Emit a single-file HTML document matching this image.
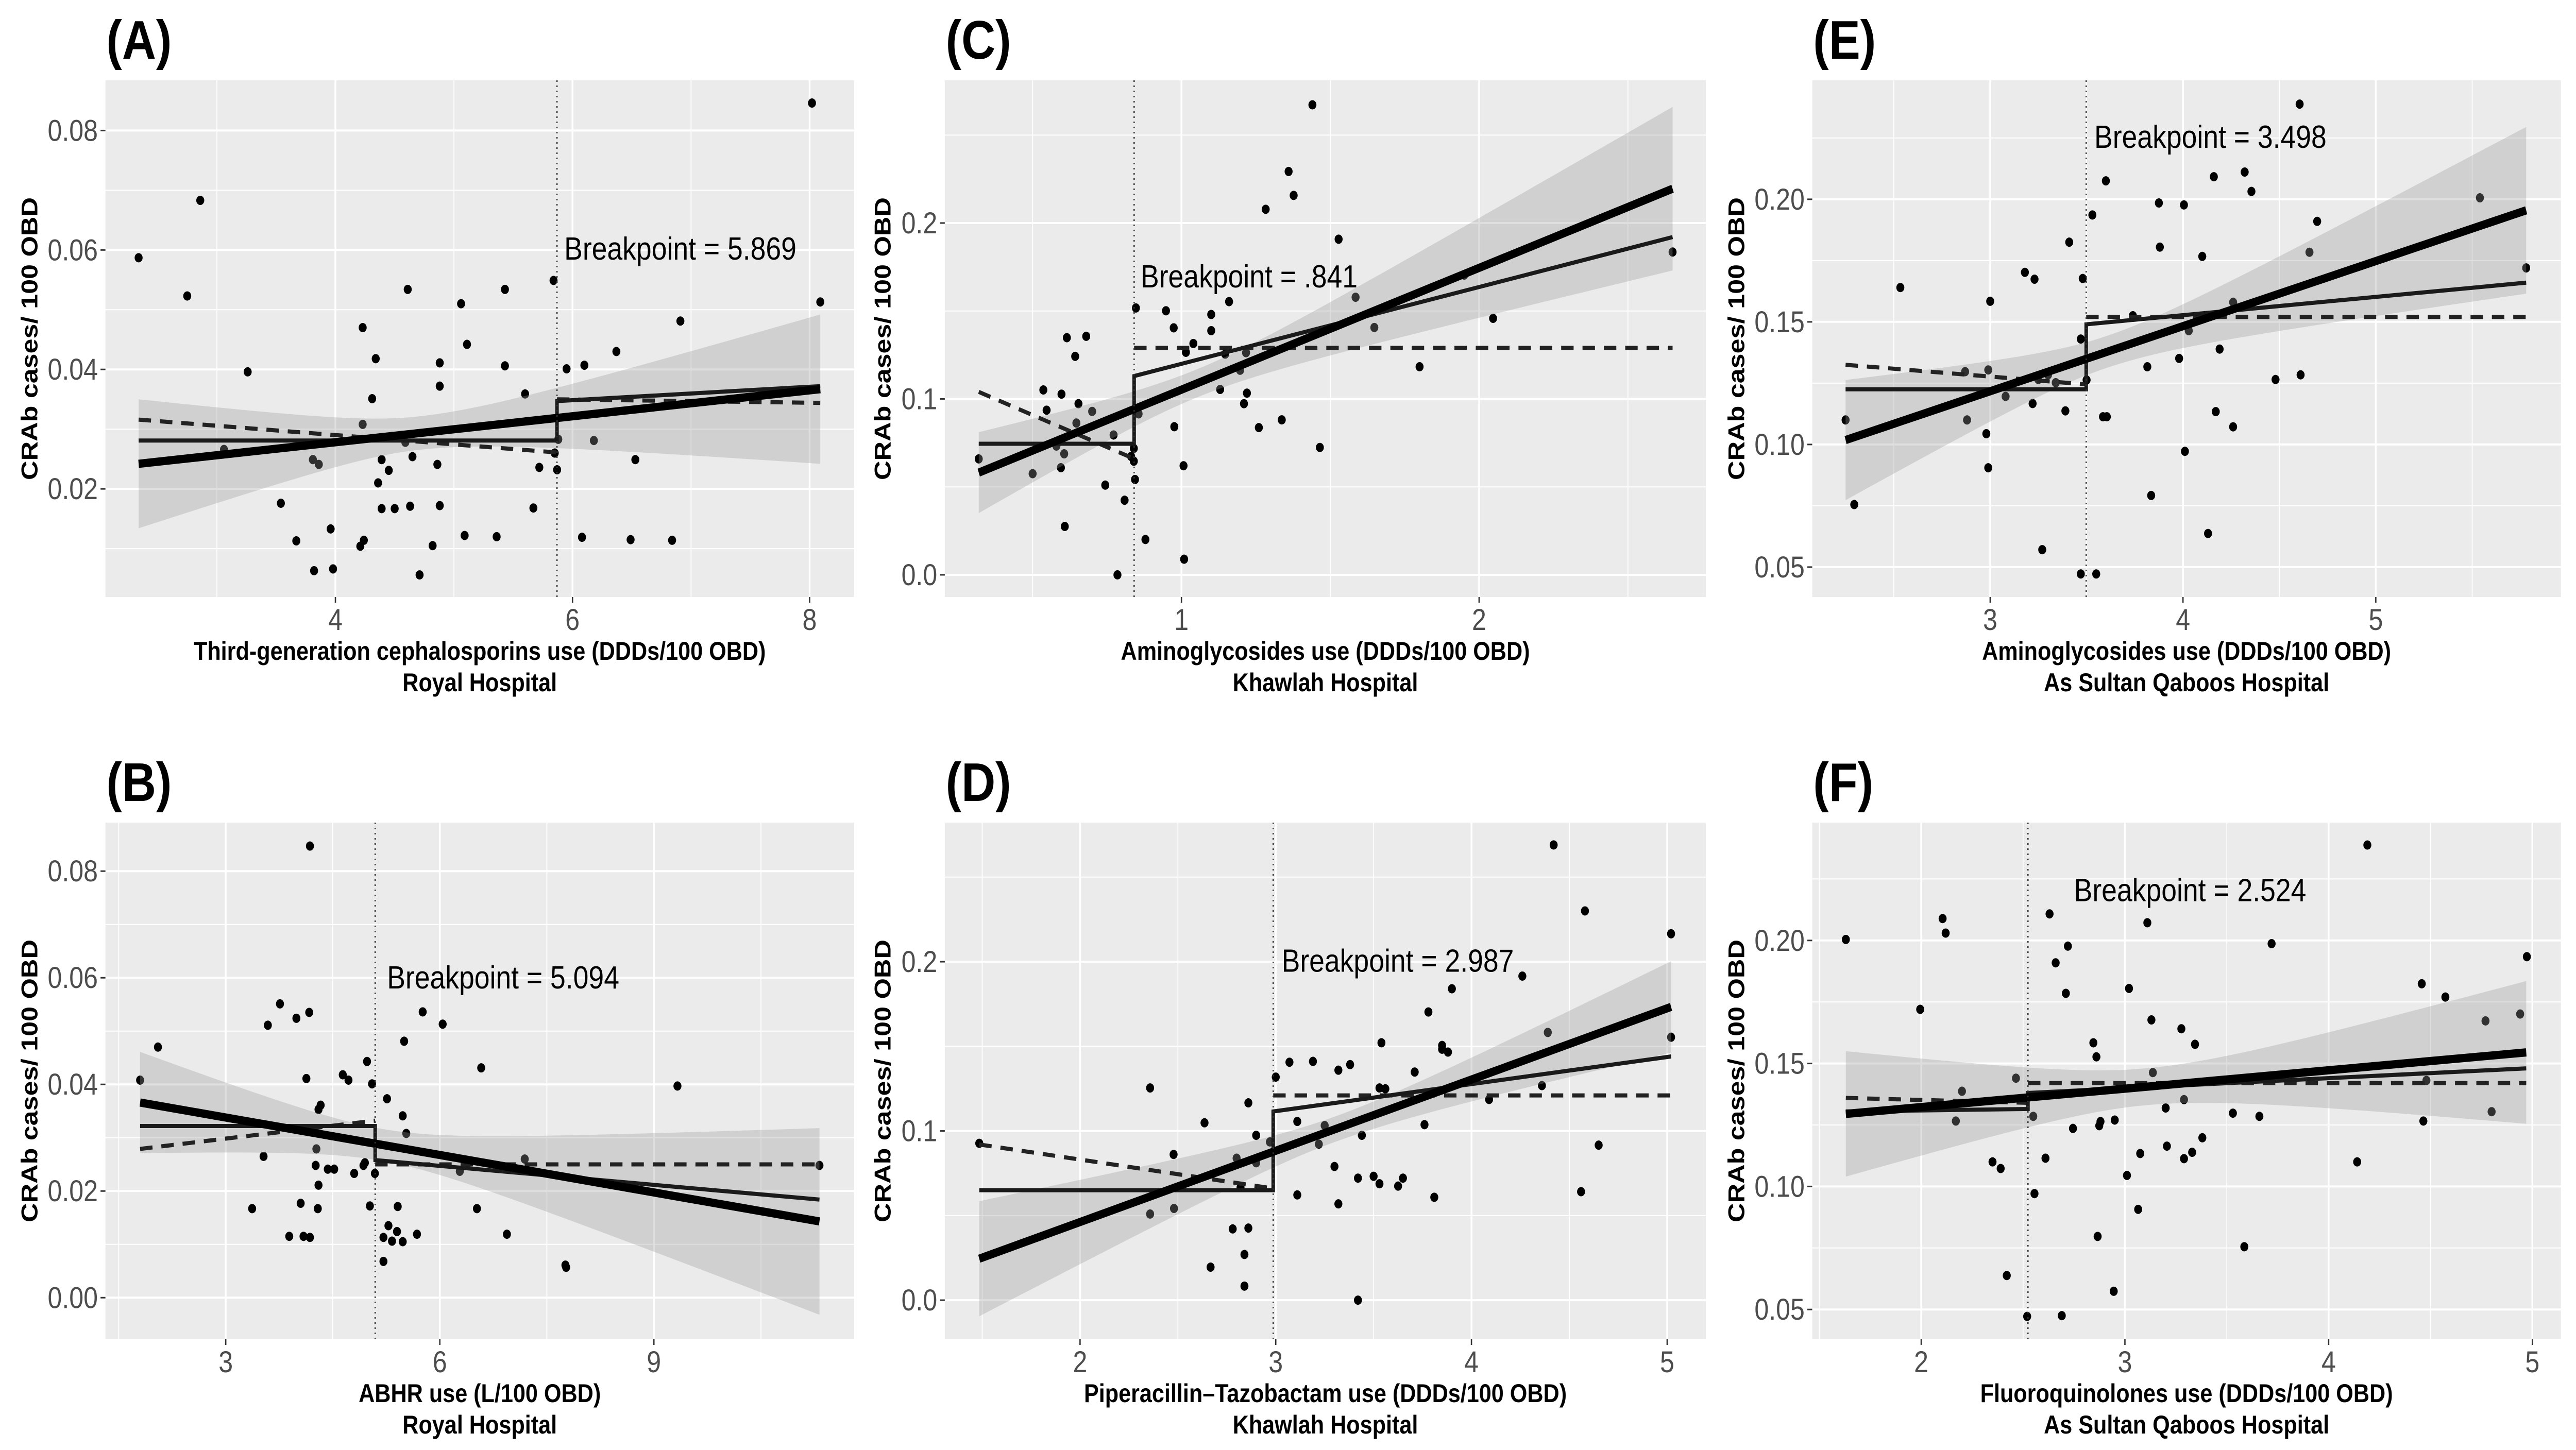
<!DOCTYPE html>
<html><head><meta charset="utf-8"><style>
html,body{margin:0;padding:0;background:#fff;overflow:hidden}
svg{display:block;width:100vw;height:100vh}
text{font-family:"Liberation Sans",Arial,sans-serif}
</style></head><body>
<svg id="fig" xmlns="http://www.w3.org/2000/svg" viewBox="0 0 5791 2815" preserveAspectRatio="none">
<rect x="0" y="0" width="5791" height="2815" fill="#fff"/>
</svg>
<script>
// ---------------- data ----------------
const A_x=[2.34,2.75,2.86,3.06,3.26,3.54,3.67,3.81,3.86,3.82,3.96,3.98,4.21,4.24,4.23,4.23,4.34,4.31,4.39,4.36,4.39,4.45,4.50,4.59,4.61,4.63,4.65,4.71,4.82,4.86,4.88,4.88,4.88,5.06,5.09,5.11,5.36,5.43,5.43,5.60,5.67,5.72,5.84,5.85,5.87,5.88,5.95,6.10,6.08,6.18,6.37,6.53,6.49,6.84,6.91,8.02,8.09];
const A_y=[.0587,.0523,.0683,.0266,.0396,.0176,.0113,.0249,.0241,.0063,.0133,.0066,.0104,.0114,.0470,.0308,.0418,.0351,.0249,.0210,.0167,.0231,.0167,.0278,.0534,.0171,.0254,.0056,.0105,.0241,.0411,.0372,.0172,.0510,.0122,.0442,.0120,.0534,.0406,.0359,.0168,.0236,.0549,.0260,.0232,.0283,.0401,.0407,.0119,.0281,.0430,.0249,.0115,.0114,.0481,.0846,.0513];
const B_x=[1.80,2.05,3.53,3.37,3.59,3.76,3.89,3.99,4.05,4.13,4.09,4.18,4.17,4.18,4.26,4.27,4.29,4.30,4.30,4.33,4.43,4.52,4.64,4.72,4.80,4.93,4.95,4.98,5.02,5.05,5.09,5.21,5.21,5.26,5.28,5.33,5.41,5.40,5.48,5.48,5.50,5.53,5.68,5.76,6.04,6.28,6.52,6.58,6.94,7.19,7.76,7.77,9.33,11.32];
const B_y=[.0408,.0470,.0265,.0167,.0511,.0551,.0115,.0524,.0177,.0411,.0115,.0113,.0535,.0847,.0248,.0279,.0167,.0211,.0353,.0361,.0241,.0241,.0418,.0408,.0233,.0248,.0253,.0443,.0172,.0401,.0233,.0113,.0068,.0373,.0135,.0106,.0171,.0124,.0105,.0341,.0481,.0308,.0119,.0536,.0513,.0237,.0167,.0431,.0119,.0260,.0061,.0057,.0397,.0248];
const C_x=[0.319,0.50,0.536,0.547,0.58,0.595,0.597,0.606,0.608,0.615,0.643,0.647,0.654,0.68,0.70,0.744,0.772,0.785,0.809,0.831,0.84,0.84,0.844,0.847,0.856,0.879,0.948,0.974,0.976,1.007,1.009,1.015,1.04,1.10,1.10,1.13,1.147,1.16,1.197,1.21,1.22,1.217,1.26,1.283,1.337,1.36,1.377,1.44,1.465,1.528,1.585,1.648,1.80,1.95,2.047,2.65];
const C_y=[.0659,.0575,.1051,.0936,.0732,.0609,.1027,.0688,.0275,.1348,.1242,.0863,.0973,.1356,.0929,.0510,.0795,.0000,.0424,.0673,.0719,.0646,.0542,.1517,.0915,.0201,.1501,.1404,.0842,.0620,.0089,.1265,.1315,.1480,.1388,.1054,.1255,.1553,.1163,.0973,.1033,.1263,.0837,.2078,.0881,.2293,.2157,.2672,.0724,.1908,.1578,.1406,.1183,.1704,.1458,.1835];
const D_x=[1.485,2.358,2.358,2.478,2.48,2.636,2.667,2.78,2.80,2.82,2.84,2.84,2.86,2.86,2.90,2.90,2.97,3.00,3.07,3.11,3.11,3.19,3.22,3.25,3.30,3.32,3.32,3.38,3.42,3.42,3.44,3.50,3.53,3.53,3.54,3.56,3.625,3.65,3.71,3.76,3.78,3.81,3.85,3.85,3.88,3.90,4.09,4.26,4.36,4.39,4.42,4.56,4.58,4.65,5.02,5.02];
const D_y=[.0927,.1254,.0509,.0861,.0542,.1048,.0195,.0421,.0839,.0666,.0270,.0083,.1166,.0426,.0974,.0812,.0935,.1318,.1406,.1056,.0622,.1411,.0922,.1032,.0790,.0569,.1359,.1392,.0721,.0000,.0974,.0732,.1254,.0688,.1521,.1249,.0674,.0721,.1348,.1037,.1703,.0608,.1505,.1483,.1466,.1840,.1186,.1915,.1268,.1582,.2690,.0641,.2300,.0916,.2165,.1554];
const E_x=[2.25,2.295,2.534,2.87,2.88,2.98,2.99,2.99,3.00,3.08,3.18,3.22,3.23,3.25,3.27,3.30,3.34,3.39,3.41,3.47,3.48,3.47,3.50,3.53,3.55,3.585,3.605,3.60,3.74,3.815,3.835,3.875,3.88,3.98,4.005,4.01,4.03,4.10,4.13,4.16,4.17,4.19,4.26,4.26,4.32,4.355,4.48,4.605,4.61,4.656,4.696,5.54,5.78];
const E_y=[.1100,.0755,.1640,.1297,.1100,.1044,.0905,.1304,.1584,.1196,.1702,.1167,.1674,.1265,.0571,.1284,.1252,.1137,.1825,.0472,.1677,.1430,.1263,.1936,.0472,.1113,.1113,.2075,.1525,.1317,.0792,.1985,.1805,.1351,.1977,.0972,.1464,.1767,.0637,.2092,.1134,.1389,.1072,.1580,.2111,.2032,.1265,.2388,.1284,.1784,.1910,.2006,.1720];
const F_x=[1.63,1.995,2.105,2.12,2.17,2.20,2.35,2.39,2.42,2.465,2.52,2.55,2.556,2.61,2.63,2.66,2.69,2.71,2.72,2.745,2.845,2.86,2.866,2.874,2.88,2.95,2.945,3.01,3.02,3.065,3.075,3.11,3.13,3.137,3.20,3.206,3.277,3.29,3.29,3.33,3.344,3.38,3.53,3.586,3.66,3.72,4.14,4.19,4.457,4.465,4.48,4.573,4.77,4.80,4.94,4.973];
const F_y=[.2004,.1720,.2089,.2030,.1266,.1387,.1100,.1073,.0638,.1440,.0472,.1285,.0971,.1115,.2108,.1909,.0475,.1785,.1977,.1236,.1584,.1527,.0797,.1247,.1264,.1270,.0574,.1045,.1805,.0907,.1134,.2072,.1677,.1463,.1319,.1164,.1641,.1113,.1353,.1139,.1578,.1198,.1298,.0755,.1285,.1987,.1100,.2388,.1824,.1266,.1431,.1770,.1673,.1304,.1701,.1934];

// fit lines [x0,y0,x1,y1]
const A_fit=[2.34,.0242,8.09,.0367];
const B_fit=[1.80,.0366,11.32,.0143];
const C_fit=[0.319,.0581,2.65,.2195];
const D_fit=[1.485,.0245,5.02,.1733];
const E_fit=[2.25,.1018,5.78,.1955];
const F_fit=[1.63,.1295,4.97,.1545];
// confidence band half-widths [hLeft, xCenter, hCenter, hRight]
const A_band=[.0108,4.7,.0028,.0125];
const B_band=[.0095,5.2,.0030,.0175];
const C_band=[.023,1.05,.008,.0465];
const D_band=[.034,3.3,.0075,.027];
const E_band=[.0245,3.6,.0065,.034];
const F_band=[.0255,3.1,.0075,.029];
// segmented (solid) [yLeftStart,yLeftEnd,yRightStart,yRightEnd]
const A_seg=[.0281,.0281,.0347,.0372];
const B_seg=[.0322,.0322,.0258,.0184];
const C_seg=[.0745,.0745,.113,.192];
const D_seg=[.065,.065,.1115,.144];
const E_seg=[.1225,.1225,.149,.166];
const F_seg=[.1305,.1315,.138,.148];
// step (dashed) [yLeftStart,yLeftEnd,yRightStart,yRightEnd]
const A_step=[.0316,.0261,.0350,.0344];
const B_step=[.0279,.0332,.0250,.0250];
const C_step=[.104,.066,.129,.129];
const D_step=[.092,.066,.121,.121];
const E_step=[.1325,.1245,.152,.152];
const F_step=[.136,.134,.142,.142];
const breakpoints=[5.869,5.094,.841,2.987,3.498,2.524];
const bpLabels=["Breakpoint = 5.869","Breakpoint = 5.094","Breakpoint = .841","Breakpoint = 2.987","Breakpoint = 3.498","Breakpoint = 2.524"];
const labelX=[5.93,5.26,.863,3.03,3.54,2.75];
const labelY=[.0584,.058,.1634,.194,.221,.216];
const A_xt=[4,6,8], A_xl=["4","6","8"], A_yt=[.02,.04,.06,.08], A_yl=["0.02","0.04","0.06","0.08"];
const B_xt=[3,6,9], B_xl=["3","6","9"], B_yt=[0,.02,.04,.06,.08], B_yl=["0.00","0.02","0.04","0.06","0.08"];
const C_xt=[1,2], C_xl=["1","2"], C_yt=[0,.1,.2], C_yl=["0.0","0.1","0.2"];
const D_xt=[2,3,4,5], D_xl=["2","3","4","5"], D_yt=[0,.1,.2], D_yl=["0.0","0.1","0.2"];
const E_xt=[3,4,5], E_xl=["3","4","5"], E_yt=[.05,.1,.15,.2], E_yl=["0.05","0.10","0.15","0.20"];
const F_xt=[2,3,4,5], F_xl=["2","3","4","5"], F_yt=[.05,.1,.15,.2], F_yl=["0.05","0.10","0.15","0.20"];
const xTitles=["Third-generation cephalosporins use (DDDs/100 OBD)","ABHR use (L/100 OBD)","Aminoglycosides use (DDDs/100 OBD)","Piperacillin\u2013Tazobactam use (DDDs/100 OBD)","Aminoglycosides use (DDDs/100 OBD)","Fluoroquinolones use (DDDs/100 OBD)"];
const hospitals=["Royal Hospital","Royal Hospital","Khawlah Hospital","Khawlah Hospital","As Sultan Qaboos Hospital","As Sultan Qaboos Hospital"];

const NS="http://www.w3.org/2000/svg";
const svg=document.getElementById('fig');
function mk(tag,parent){const e=document.createElementNS(NS,tag);parent.appendChild(e);return e;}
function set(e,o){for(const k in o)e.setAttribute(k,o[k]);}
const panels=[
 {id:'a',lab:'(A)',L:237,R:1920,T:156,B:1159,xd:[2.06,8.375],yd:[0.0019,0.0884],xs:A_x,ys:A_y,fit:A_fit,band:A_band,seg:A_seg,step:A_step,xt:A_xt,xl:A_xl,yt:A_yt,yl:A_yl,yto:170},
 {id:'b',lab:'(B)',L:237,R:1920,T:1597,B:2600,xd:[1.314,11.805],yd:[-0.0078,0.0891],xs:B_x,ys:B_y,fit:B_fit,band:B_band,seg:B_seg,step:B_step,xt:B_xt,xl:B_xl,yt:B_yt,yl:B_yl,yto:170},
 {id:'c',lab:'(C)',L:2124,R:3835,T:156,B:1159,xd:[0.205,2.762],yd:[-0.0126,0.2811],xs:C_x,ys:C_y,fit:C_fit,band:C_band,seg:C_seg,step:C_step,xt:C_xt,xl:C_xl,yt:C_yt,yl:C_yl,yto:139},
 {id:'d',lab:'(D)',L:2124,R:3835,T:1597,B:2600,xd:[1.309,5.198],yd:[-0.0231,0.2822],xs:D_x,ys:D_y,fit:D_fit,band:D_band,seg:D_seg,step:D_step,xt:D_xt,xl:D_xl,yt:D_yt,yl:D_yl,yto:139},
 {id:'e',lab:'(E)',L:4074,R:5757,T:156,B:1159,xd:[2.077,5.960],yd:[0.0378,0.2485],xs:E_x,ys:E_y,fit:E_fit,band:E_band,seg:E_seg,step:E_step,xt:E_xt,xl:E_xl,yt:E_yt,yl:E_yl,yto:170},
 {id:'f',lab:'(F)',L:4074,R:5757,T:1597,B:2600,xd:[1.465,5.140],yd:[0.0379,0.2479],xs:F_x,ys:F_y,fit:F_fit,band:F_band,seg:F_seg,step:F_step,xt:F_xt,xl:F_xl,yt:F_yt,yl:F_yl,yto:170}
];
const order=['a','b','c','d','e','f'];

panels.forEach(function(p){
 const idx=order.indexOf(p.id);
 const sx=v=>p.L+(v-p.xd[0])/(p.xd[1]-p.xd[0])*(p.R-p.L);
 const sy=v=>p.B-(v-p.yd[0])/(p.yd[1]-p.yd[0])*(p.B-p.T);
 const g=mk('g',svg);
 
 
 const ttl=mk('text',g);
 set(ttl,{x:p.L+2,y:p.T-42,'font-size':106,'font-weight':'bold',fill:'#000'});
 ttl.textContent=p.lab;
 
 
 const bg=mk('rect',g);
 set(bg,{x:p.L,y:p.T,width:p.R-p.L,height:p.B-p.T,fill:'#ebebeb'});
 
 
 const grid=mk('g',g);
 
 
 const xs=p.xt[1]-p.xt[0], ys=p.yt[1]-p.yt[0];
 for(let v=p.xt[0]-xs/2;v<=p.xd[1];v+=xs){ if(v<p.xd[0])continue; const l=mk('line',grid); set(l,{x1:sx(v),x2:sx(v),y1:p.T,y2:p.B,stroke:'#fff','stroke-width':2});}
 for(let v=p.yt[0]-ys/2;v<=p.yd[1];v+=ys){ if(v<p.yd[0])continue; const l=mk('line',grid); set(l,{y1:sy(v),y2:sy(v),x1:p.L,x2:p.R,stroke:'#fff','stroke-width':2});}
 p.xt.forEach(v=>{const l=mk('line',grid); set(l,{x1:sx(v),x2:sx(v),y1:p.T,y2:p.B,stroke:'#fff','stroke-width':4});});
 p.yt.forEach(v=>{const l=mk('line',grid); set(l,{y1:sy(v),y2:sy(v),x1:p.L,x2:p.R,stroke:'#fff','stroke-width':4});});
 const pts=mk('g',g);
 
 
 const n=Math.min(p.xs.length,p.ys.length);
 for(let i=0;i<n;i++){
  const c=mk('circle',pts);
  set(c,{cx:sx(p.xs[i]),cy:sy(p.ys[i]),r:9,fill:'#000'});
  
  
 }
 const f=p.fit, fy=x=>f[1]+(f[3]-f[1])*(x-f[0])/(f[2]-f[0]);
 const bd=p.band;
 const cl=(bd[0]*bd[0]-bd[2]*bd[2])/Math.pow(f[0]-bd[1],2);
 const cr=(bd[3]*bd[3]-bd[2]*bd[2])/Math.pow(f[2]-bd[1],2);
 const hw=x=>Math.sqrt(bd[2]*bd[2]+(x<bd[1]?cl:cr)*Math.pow(x-bd[1],2));
 let up=[],lo=[];
 for(let i=0;i<=80;i++){const x=f[0]+(f[2]-f[0])*i/80; up.push(sx(x)+','+sy(fy(x)+hw(x))); lo.push(sx(x)+','+sy(fy(x)-hw(x)));}
 const band=mk('polygon',g);
 set(band,{points:up.concat(lo.reverse()).join(' '),fill:'#999999','fill-opacity':0.32});
 
 
 const bp=breakpoints[idx];
 const d1=mk('line',g);
 set(d1,{x1:sx(f[0]),y1:sy(p.step[0]),x2:sx(bp),y2:sy(p.step[1]),stroke:'#222','stroke-width':8,'stroke-dasharray':'28 20'});
 
 
 const d2=mk('line',g);
 set(d2,{x1:sx(bp),y1:sy(p.step[2]),x2:sx(f[2]),y2:sy(p.step[3]),stroke:'#222','stroke-width':8,'stroke-dasharray':'28 20'});
 
 
 const sg=mk('polyline',g);
 set(sg,{points:[sx(f[0])+','+sy(p.seg[0]),sx(bp)+','+sy(p.seg[1]),sx(bp)+','+sy(p.seg[2]),sx(f[2])+','+sy(p.seg[3])].join(' '),fill:'none',stroke:'#1a1a1a','stroke-width':8});
 
 
 const fl=mk('line',g);
 set(fl,{x1:sx(f[0]),y1:sy(f[1]),x2:sx(f[2]),y2:sy(f[3]),stroke:'#000','stroke-width':16});
 
 
 const vl=mk('line',g);
 set(vl,{x1:sx(bp),x2:sx(bp),y1:p.T,y2:p.B,stroke:'#333','stroke-width':3,'stroke-dasharray':'3 7'});
 
 
 const bl=mk('text',g);
 set(bl,{x:sx(labelX[idx]),y:sy(labelY[idx]),'font-size':62,fill:'#000'});
 bl.textContent=bpLabels[idx];
 
 
 p.xt.forEach((v,i)=>{
  const t=mk('line',g); set(t,{x1:sx(v),x2:sx(v),y1:p.B,y2:p.B+11,stroke:'#333','stroke-width':3});
  const tx=mk('text',g); set(tx,{x:sx(v),y:p.B+64,'font-size':58,fill:'#4d4d4d','text-anchor':'middle'});
  tx.textContent=p.xl[i];
  
  
 });
 p.yt.forEach((v,i)=>{
  const t=mk('line',g); set(t,{x1:p.L-11,x2:p.L,y1:sy(v),y2:sy(v),stroke:'#333','stroke-width':3});
  const tx=mk('text',g); set(tx,{x:p.L-17,y:sy(v)+20,'font-size':58,fill:'#4d4d4d','text-anchor':'end'});
  tx.textContent=p.yl[i];
  
  
 });
 const cx=(p.L+p.R)/2;
 const xt1=mk('text',g); set(xt1,{x:cx,y:p.B+122,'font-size':50,'font-weight':'bold','text-anchor':'middle',fill:'#000'});
 xt1.textContent=xTitles[idx];
 
 
 const xt2=mk('text',g); set(xt2,{x:cx,y:p.B+183,'font-size':50,'font-weight':'bold','text-anchor':'middle',fill:'#000'});
 xt2.textContent=hospitals[idx];
 
 
 const yx=p.L-p.yto, yy=(p.T+p.B)/2;
 const ytt=mk('text',g); set(ytt,{x:yx,y:yy,'font-size':52,'font-weight':'bold','text-anchor':'middle','dominant-baseline':'central',fill:'#000',transform:'rotate(-90 '+yx+' '+yy+')'});
 ytt.textContent='CRAb cases/ 100 OBD';
 
 
});
</script>
</body></html>
